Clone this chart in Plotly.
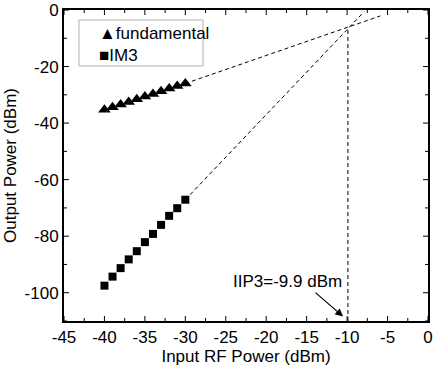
import plotly.graph_objects as go

pin = [-40, -39, -38, -37, -36, -35, -34, -33, -32, -31, -30]
fund = [-35.3, -34.4, -33.4, -32.5, -31.6, -30.6, -29.7, -28.7, -27.8, -26.9, -26.0]
im3 = [-97.5, -94.3, -91.3, -88.2, -85.3, -82.1, -79.2, -76.0, -72.8, -70.1, -67.1]
iip3 = -9.9
fund_ext = [-30, -5.9]
im3_ext = [-30, -7.9]
fund_ext_y = [-26.0, -2.1]
im3_ext_y = [-67.1, -0.6]
ip_out = -6.6
xticks = [-45, -40, -35, -30, -25, -20, -15, -10, -5, 0]
yticks = [-100, -80, -60, -40, -20, 0]
xtick_text = ["-45", "-40", "-35", "-30", "-25", "-20", "-15", "-10", "-5", "0"]
ytick_text = ["-100", "-80", "-60", "-40", "-20", "0"]
xminor = [-42.5, -37.5, -32.5, -27.5, -22.5, -17.5, -12.5, -7.5, -2.5]
yminor = [-110, -90, -70, -50, -30, -10]

XR = [-45, 0]
YR = [-110, 0]
W, H = 434, 371
M = dict(l=64, r=6, t=10, b=50)
font = "Liberation Sans, Arial, sans-serif"
FS = 17

fig = go.Figure()
dash = dict(color="black", width=1, dash="4px,3px")
fig.add_trace(go.Scatter(x=fund_ext, y=fund_ext_y, mode="lines", line=dash, showlegend=False))
fig.add_trace(go.Scatter(x=im3_ext, y=im3_ext_y, mode="lines", line=dash, showlegend=False))
fig.add_trace(go.Scatter(x=[iip3, iip3], y=[YR[0], ip_out], mode="lines", line=dash, showlegend=False))
fig.add_trace(go.Scatter(x=pin, y=fund, mode="markers", name="fundamental", showlegend=False,
                         marker=dict(symbol="triangle-up", size=11, color="black")))
fig.add_trace(go.Scatter(x=pin, y=im3, mode="markers", name="IM3", showlegend=False,
                         marker=dict(symbol="square", size=8, color="black")))

# inward tick marks on all four sides, drawn as line traces
xu = (XR[1] - XR[0]) / (W - M["l"] - M["r"])   # data units per pixel
yu = (YR[1] - YR[0]) / (H - M["t"] - M["b"])
tx, ty = [], []
for vals, ln in ((xticks, 5), (xminor, 3)):
    for v in vals:
        tx += [v, v, None, v, v, None]
        ty += [YR[0], YR[0] + ln * yu, None, YR[1], YR[1] - ln * yu, None]
for vals, ln in ((yticks, 5), (yminor, 3)):
    for v in vals:
        tx += [XR[0], XR[0] + ln * xu, None, XR[1], XR[1] - ln * xu, None]
        ty += [v, v, None, v, v, None]
fig.add_trace(go.Scatter(x=tx, y=ty, mode="lines", line=dict(color="black", width=1),
                         showlegend=False, hoverinfo="skip", connectgaps=False))

# arrow
fig.add_annotation(x=-10.5, y=-108.4, ax=-14.1, ay=-99.5, xref="x", yref="y", axref="x", ayref="y",
                   text="", showarrow=True, arrowhead=2, arrowsize=1.3, arrowwidth=1.2, arrowcolor="black")
fig.add_annotation(x=-10.4, y=-96.1, xref="x", yref="y", text="IIP3=-9.9 dBm", showarrow=False,
                   xanchor="right", yanchor="middle", font=dict(size=FS, color="black", family=font))

# legend (manual)
fig.add_shape(type="rect", xref="paper", yref="paper", x0=0.041, x1=0.382, y0=0.82, y1=0.968,
              line=dict(color="black", width=1), fillcolor="white", layer="above")
fig.add_annotation(xref="paper", yref="paper", x=0.0907, y=0.926, text="▲fundamental", showarrow=False,
                   xanchor="left", yanchor="middle", font=dict(size=FS, color="black", family=font))
fig.add_annotation(xref="paper", yref="paper", x=0.0907, y=0.855, text="■IM3", showarrow=False,
                   xanchor="left", yanchor="middle", font=dict(size=FS, color="black", family=font))

axis_common = dict(showline=True, linecolor="black", linewidth=2, mirror=True, ticks="",
                   showgrid=False, zeroline=False, automargin=False,
                   tickfont=dict(size=FS, color="black", family=font),
                   title_font=dict(size=FS, color="black", family=font))
fig.update_xaxes(range=XR, tickmode="array", tickvals=xticks, ticktext=xtick_text,
                 title_text="Input RF Power (dBm)", title_standoff=4, **axis_common)
fig.update_yaxes(range=YR, tickmode="array", tickvals=yticks, ticktext=ytick_text,
                 title_text="Output Power (dBm)", title_standoff=4, **axis_common)
fig.update_layout(template="simple_white", width=W, height=H, margin=M,
                  plot_bgcolor="white", paper_bgcolor="white", showlegend=False,
                  font=dict(family=font, color="black"))
fig.write_html("out.html")
